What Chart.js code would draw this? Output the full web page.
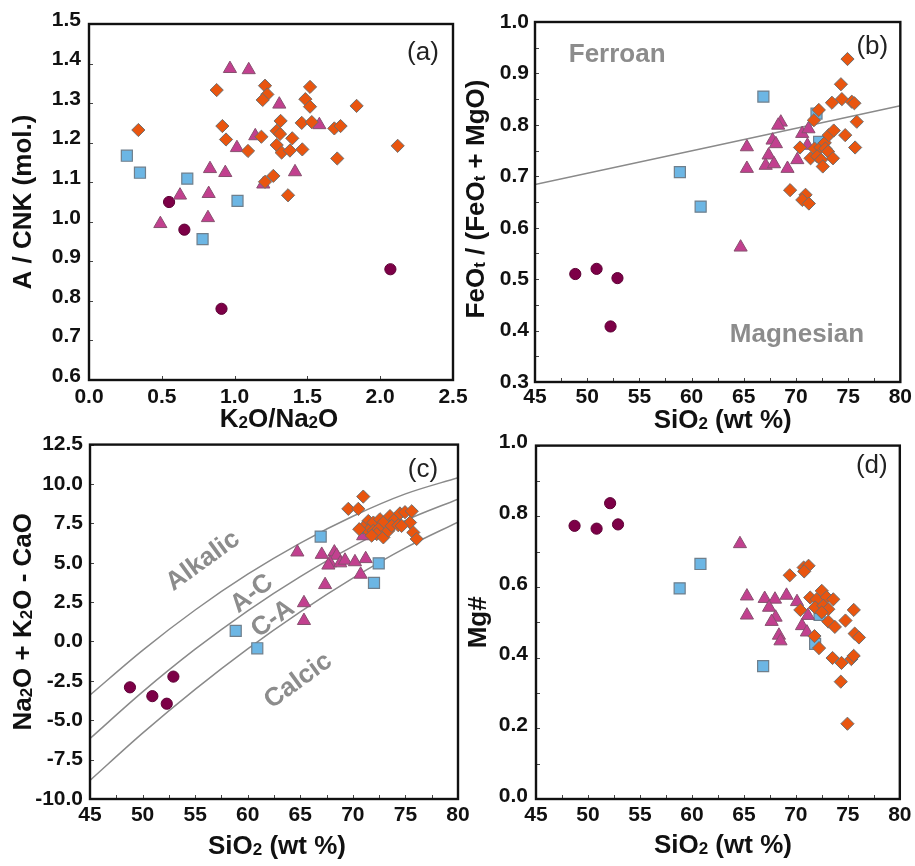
<!DOCTYPE html>
<html lang="en">
<head>
<meta charset="UTF-8">
<title>Whole-rock classification diagrams</title>
<script src="https://cdn.jsdelivr.net/npm/chart.js"></script>
<style>
  body { margin: 0; background: #fff; }
  #page { position: relative; width: 915px; height: 866px; overflow: hidden; background: #fff; }
  #page canvas { position: absolute; }
</style>
</head>
<body>
<div id="page">
  <canvas id="chartA" width="480" height="440" style="left:0px;top:0px"></canvas>
  <canvas id="chartB" width="460" height="440" style="left:455px;top:0px"></canvas>
  <canvas id="chartC" width="480" height="441" style="left:0px;top:425px"></canvas>
  <canvas id="chartD" width="460" height="441" style="left:455px;top:425px"></canvas>
</div>
<script>
// ---- (a) A/CNK vs K2O/Na2O : [x, y]
var aCircle = [[0.55,1.05],[0.655,0.98],[0.91,0.78],[2.07,0.88]];
var aSquare = [[0.26,1.167],[0.35,1.124],[0.675,1.109],[1.02,1.053],[0.78,0.956]];
var aTriangle = [[0.968,1.387],[1.097,1.384],[1.307,1.297],[1.582,1.245],[1.142,1.217],[1.016,1.187],[0.831,1.134],
  [0.936,1.124],[1.415,1.126],[0.625,1.067],[0.822,1.071],[0.817,1.01],[0.49,0.995],[1.197,1.095]];
var aDiamond = [[0.339,1.232],[0.877,1.333],[1.209,1.344],[1.225,1.322],[1.193,1.308],[1.518,1.341],[1.486,1.31],
  [1.518,1.291],[1.838,1.293],[0.916,1.242],[1.316,1.255],[1.461,1.25],[1.53,1.252],[1.685,1.236],[1.728,1.242],
  [1.289,1.23],[1.312,1.222],[1.184,1.215],[0.941,1.208],[1.396,1.211],[1.289,1.194],[1.323,1.175],[1.38,1.18],
  [1.465,1.183],[1.092,1.179],[2.12,1.192],[1.705,1.16],[1.266,1.116],[1.209,1.101],[1.367,1.067]];

// ---- (b) FeOt/(FeOt+MgO) vs SiO2
var bCircle = [[48.86,0.51],[50.9,0.52],[52.9,0.502],[52.24,0.408]];
var bSquare = [[66.88,0.855],[58.88,0.708],[60.87,0.641],[71.97,0.822],[72.22,0.767]];
var bTriangle = [[64.7,0.562],[65.3,0.757],[65.3,0.715],[68.55,0.805],[68.3,0.799],[67.76,0.77],[68.08,0.763],
  [67.38,0.741],[67.1,0.721],[67.9,0.724],[69.19,0.715],[70.13,0.732],[70.6,0.783],[71.2,0.792],[71.1,0.76]];
var bDiamond = [[70.39,0.756],[71.78,0.754],[72.35,0.756],[72.76,0.765],[73.14,0.78],[73.62,0.789],[74.72,0.78],
  [75.67,0.756],[75.83,0.806],[71.72,0.809],[72.19,0.829],[73.45,0.843],[74.4,0.85],[75.35,0.845],[75.6,0.842],
  [74.31,0.879],[74.94,0.928],[71.4,0.735],[72.03,0.739],[72.41,0.732],[72.82,0.754],[73.08,0.748],[72.57,0.719],
  [73.55,0.735],[69.44,0.673],[70.92,0.664],[70.61,0.654],[71.24,0.647]];
var bFerroanLine = [[45,0.684],[80,0.837]];

// ---- (c) MALI vs SiO2
var cCircle = [[48.8,-2.91],[50.93,-3.47],[52.3,-3.95],[52.93,-2.23]];
var cSquare = [[66.94,6.66],[58.86,0.67],[60.91,-0.43],[72.46,4.96],[72.01,3.72]];
var cTriangle = [[64.72,5.67],[67.04,5.52],[68.24,5.67],[68.46,5.46],[67.83,4.98],[67.67,4.84],[68.8,4.98],
  [69.25,5.15],[70.2,5.05],[71.22,5.25],[70.74,4.26],[67.36,3.6],[65.35,2.45],[65.35,1.32],[70.98,6.7]];
var cDiamond = [[70.99,9.2],[69.57,8.42],[70.52,8.42],[71.47,7.65],[71.95,7.55],[72.58,7.76],[72.9,7.55],
  [73.53,7.96],[74.01,7.76],[74.48,8.13],[74.96,8.21],[75.6,8.27],[75.44,7.55],[70.99,7.23],[71.47,7.03],
  [71.95,7.03],[72.42,7.13],[72.27,6.82],[72.9,6.61],[73.37,7.03],[73.69,7.34],[74.32,7.38],[74.64,7.34],
  [75.75,6.92],[76.07,6.51],[71.79,6.72],[70.61,7.13]];
// field boundaries, read at 5 wt% steps
var cSiO2 = [45, 50, 55, 60, 65, 70, 75, 80];
var cAlkalicAC = [-3.40, -0.56, 2.00, 4.27, 6.25, 7.95, 9.37, 10.40];
var cACCA = [-6.16, -3.20, -0.49, 1.95, 4.12, 6.04, 7.69, 9.04];
var cCACalcic = [-8.82, -5.82, -3.04, -0.47, 1.88, 4.02, 5.94, 7.58];

// ---- (d) Mg# vs SiO2
var dCircle = [[48.71,0.773],[50.83,0.765],[52.13,0.837],[52.89,0.777]];
var dSquare = [[60.82,0.665],[58.82,0.596],[66.85,0.376],[71.85,0.439],[72.28,0.521]];
var dTriangle = [[64.62,0.722],[65.29,0.574],[65.29,0.52],[67.0,0.567],[67.99,0.565],[67.42,0.542],[68.05,0.514],
  [67.67,0.502],[68.37,0.463],[68.52,0.447],[69.1,0.576],[70.11,0.558],[70.59,0.49],[71.06,0.472],[71.16,0.519]];
var dDiamond = [[69.41,0.633],[70.75,0.655],[71.22,0.66],[70.8,0.644],[71.38,0.57],[72.49,0.589],[72.0,0.565],
  [72.96,0.571],[73.6,0.565],[71.85,0.542],[72.65,0.547],[73.12,0.537],[72.49,0.528],[70.43,0.535],[75.57,0.535],
  [73.12,0.502],[73.75,0.487],[74.77,0.505],[75.66,0.468],[76.07,0.457],[71.79,0.461],[72.23,0.427],[73.53,0.399],
  [74.39,0.385],[75.34,0.396],[75.56,0.405],[74.32,0.332],[74.96,0.213]];

var FONT = '"Liberation Sans", Arial, Helvetica, sans-serif';

function pts(arr) { return arr.map(function (d) { return { x: d[0], y: d[1] }; }); }
function curve(xs, ys) { return xs.map(function (v, i) { return { x: v, y: ys[i] }; }); }
function isMult(v, m) { return Math.abs(v / m - Math.round(v / m)) < 1e-6; }

// marker styles, one per rock group
function marks(circle, square, triangle, diamond) {
  // first dataset is drawn on top in Chart.js
  return [
    { data: pts(diamond), pointStyle: 'rectRot', pointRadius: 6.6, backgroundColor: '#e9550f', borderColor: '#6d6d6d', borderWidth: 1 },
    { data: pts(triangle), pointStyle: 'triangle', pointRadius: 7.6, backgroundColor: '#c2408f', borderColor: '#87506f', borderWidth: 1 },
    { data: pts(square), pointStyle: 'rect', pointRadius: 7.8, backgroundColor: '#6cb6e4', borderColor: '#6f7f8c', borderWidth: 1.2 },
    { data: pts(circle), pointStyle: 'circle', pointRadius: 5.6, backgroundColor: '#7d0047', borderColor: '#5c0035', borderWidth: 1 }
  ];
}
function boundary(data) {
  return { data: data, showLine: true, pointRadius: 0, borderColor: '#8a8a8a', borderWidth: 1.5,
           cubicInterpolationMode: 'monotone', fill: false };
}

// draws a title made of plain and subscript runs, centred at (x, y)
function drawRuns(ctx, runs, x, y, rot) {
  var big = 'bold 26px ' + FONT, small = 'bold 17px ' + FONT;
  var w = 0;
  runs.forEach(function (r) { ctx.font = r[1] ? small : big; w += ctx.measureText(r[0]).width; });
  ctx.save();
  ctx.translate(x, y);
  ctx.rotate(rot || 0);
  ctx.textAlign = 'left';
  ctx.textBaseline = 'alphabetic';
  ctx.fillStyle = '#111';
  var cx = -w / 2;
  runs.forEach(function (r) {
    ctx.font = r[1] ? small : big;
    ctx.fillText(r[0], cx, r[1] ? 10 : 9);
    cx += ctx.measureText(r[0]).width;
  });
  ctx.restore();
}

// frame, inward ticks, axis titles, panel tag and field names
var chrome = {
  id: 'chrome',
  afterDraw: function (chart, args, o) {
    var ctx = chart.ctx, a = chart.chartArea, x = chart.scales.x, y = chart.scales.y;
    ctx.save();
    ctx.strokeStyle = '#444';
    ctx.lineWidth = 1;
    ctx.beginPath();
    x.ticks.forEach(function (t) {
      var px = Math.round(x.getPixelForValue(t.value)) + 0.5;
      ctx.moveTo(px, a.bottom); ctx.lineTo(px, a.bottom - 4);
    });
    y.ticks.forEach(function (t) {
      var py = Math.round(y.getPixelForValue(t.value)) + 0.5;
      ctx.moveTo(a.left, py); ctx.lineTo(a.left + 4, py);
    });
    ctx.stroke();
    ctx.strokeStyle = '#111';
    ctx.lineWidth = 2.4;
    ctx.strokeRect(a.left, a.top, a.right - a.left, a.bottom - a.top);

    drawRuns(ctx, o.xTitle, (a.left + a.right) / 2 + o.xTitleAt[0], a.bottom + o.xTitleAt[1], 0);
    drawRuns(ctx, o.yTitle, a.left + o.yTitleAt[0], (a.top + a.bottom) / 2 + o.yTitleAt[1], -Math.PI / 2);

    ctx.font = '26px ' + FONT;
    ctx.fillStyle = '#222';
    ctx.textAlign = 'center';
    ctx.textBaseline = 'middle';
    ctx.fillText(o.tag, a.right - o.tagAt[0], a.top + o.tagAt[1]);

    (o.notes || []).forEach(function (n) {
      ctx.save();
      ctx.translate(x.getPixelForValue(n.x), y.getPixelForValue(n.y));
      ctx.rotate((n.rot || 0) * Math.PI / 180);
      ctx.font = 'bold 26px ' + FONT;
      ctx.fillStyle = '#8c8c8c';
      ctx.textAlign = 'center';
      ctx.textBaseline = 'middle';
      ctx.fillText(n.text, 0, 0);
      ctx.restore();
    });
    ctx.restore();
  }
};

function axis(min, max, step, fmt, pad, extra) {
  var s = {
    type: 'linear', min: min, max: max,
    grid: { display: false, drawTicks: false },
    border: { display: false },
    title: { display: false },
    ticks: {
      stepSize: step, autoSkip: false, maxRotation: 0, minRotation: 0,
      padding: pad, color: '#111',
      font: { family: FONT, size: 21, weight: 'bold' },
      callback: fmt
    }
  };
  if (extra) Object.assign(s.ticks, extra);
  return s;
}

function panel(id, p) {
  var xs = axis(p.x[0], p.x[1], p.x[2], p.x[3], p.xPad);
  xs.afterFit = function (s) { s.height = p.xh; };
  var ys = axis(p.y[0], p.y[1], p.y[2], p.y[3], p.yPad, { labelOffset: p.yLabelOffset || 0 });
  ys.afterFit = function (s) { s.width = p.yw; };
  return new Chart(document.getElementById(id), {
    type: 'scatter',
    data: { datasets: p.datasets },
    options: {
      responsive: false,
      animation: false,
      layout: { padding: { left: 0, top: p.top, right: p.right, bottom: 0 } },
      plugins: {
        legend: { display: false },
        tooltip: { enabled: false },
        chrome: p.chrome
      },
      scales: { x: xs, y: ys }
    },
    plugins: [chrome]
  });
}

var fmt1 = function (v) { return v.toFixed(1); };
var fmtSiO2 = function (v) { return isMult(v, 5) ? String(Math.round(v)) : ''; };
var siO2Title = [['SiO'], ['2', 1], [' (wt %)']];

panel('chartA', {
  top: 24, right: 27, yw: 89, xh: 60, xPad: 5, yPad: 8, yLabelOffset: -4,
  x: [0, 2.5, 0.5, fmt1],
  y: [0.6, 1.5, 0.1, fmt1],
  datasets: marks(aCircle, aSquare, aTriangle, aDiamond),
  chrome: {
    xTitle: [['K'], ['2', 1], ['O/Na'], ['2', 1], ['O']], xTitleAt: [8, 38],
    yTitle: [['A / CNK (mol.)']], yTitleAt: [-67, 0],
    tag: '(a)', tagAt: [30, 29]
  }
});

panel('chartB', {
  top: 22, right: 11, yw: 80, xh: 58, xPad: 3, yPad: 6,
  x: [45, 80, 2.5, fmtSiO2],
  y: [0.3, 1.0, 0.05, function (v) { return isMult(v, 0.1) ? v.toFixed(1) : ''; }],
  datasets: marks(bCircle, bSquare, bTriangle, bDiamond).concat([boundary(pts(bFerroanLine))]),
  chrome: {
    xTitle: siO2Title, xTitleAt: [5, 37],
    yTitle: [['FeO'], ['t', 1], [' / (FeO'], ['t', 1], [' + MgO)']], yTitleAt: [-60, -3],
    tag: '(b)', tagAt: [28, 25],
    notes: [{ text: 'Ferroan', x: 52.87, y: 0.936 }, { text: 'Magnesian', x: 70.1, y: 0.391 }]
  }
});

panel('chartC', {
  top: 12, right: 22, yw: 90, xh: 67, xPad: 3.5, yPad: 7,
  x: [45, 80, 2.5, fmtSiO2],
  y: [-10, 12.5, 2.5, fmt1],
  datasets: marks(cCircle, cSquare, cTriangle, cDiamond).concat([
    boundary(curve(cSiO2, cAlkalicAC)), boundary(curve(cSiO2, cACCA)), boundary(curve(cSiO2, cCACalcic))
  ]),
  chrome: {
    xTitle: siO2Title, xTitleAt: [3, 46],
    yTitle: [['Na'], ['2', 1], ['O + K'], ['2', 1], ['O - CaO']], yTitleAt: [-68, 0],
    tag: '(c)', tagAt: [35, 25],
    notes: [
      { text: 'Alkalic', x: 55.75, y: 5.1, rot: -36 },
      { text: 'A-C', x: 60.4, y: 3.03, rot: -38 },
      { text: 'C-A', x: 62.4, y: 1.44, rot: -35 },
      { text: 'Calcic', x: 64.8, y: -2.5, rot: -36 }
    ]
  }
});

panel('chartD', {
  top: 13, right: 11, yw: 81, xh: 67, xPad: 3.5, yPad: 8, yLabelOffset: -3,
  x: [45, 80, 2.5, fmtSiO2],
  y: [0, 1.0, 0.1, function (v) { return isMult(v, 0.2) ? v.toFixed(1) : ''; }],
  datasets: marks(dCircle, dSquare, dTriangle, dDiamond),
  chrome: {
    xTitle: siO2Title, xTitleAt: [5, 45],
    yTitle: [['Mg#']], yTitleAt: [-59, 0],
    tag: '(d)', tagAt: [28, 20]
  }
});
</script>
</body>
</html>
